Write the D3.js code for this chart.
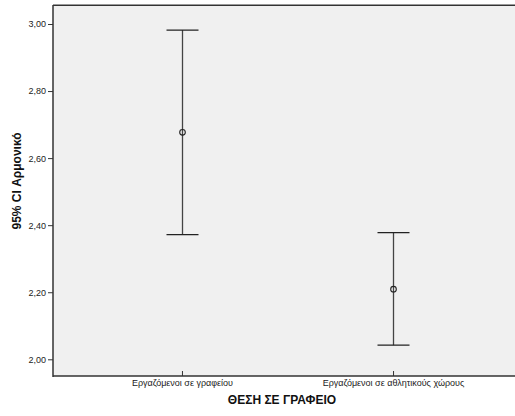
<!DOCTYPE html>
<html><head><meta charset="utf-8">
<script src="https://cdn.jsdelivr.net/npm/d3@7"></script>
<style>body{margin:0;background:#fff;}svg{display:block;font-family:"Liberation Sans",Arial,sans-serif;}</style>
</head><body>
<svg id="c" width="515" height="416"></svg>
<script>
const categories = ["Εργαζόμενοι σε γραφείου", "Εργαζόμενοι σε αθλητικούς χώρους"];
const means = [2.677, 2.209];
const lower = [2.372, 2.042];
const upper = [2.982, 2.378];
const yTicks = [2.0, 2.2, 2.4, 2.6, 2.8, 3.0];
const xTitle = "ΘΕΣΗ ΣΕ ΓΡΑΦΕΙΟ";
const yTitle = "95% CI Αρμονικό";

const svg = d3.select("#c");
const L = 53, R = 522, T = 5, B = 376;
const y = d3.scaleLinear().domain([2.0, 3.0]).range([359.3, 24]);
const x = d3.scalePoint().domain(categories).range([L, R]).padding(0.611);

svg.append("rect").attr("x", L).attr("y", T).attr("width", R - L).attr("height", B - T).attr("fill", "#f0f0f0");
svg.append("line").attr("x1", L).attr("x2", R).attr("y1", T - 0.5).attr("y2", T - 0.5).attr("stroke", "#999");
svg.append("line").attr("x1", L).attr("x2", R).attr("y1", T + 0.5).attr("y2", T + 0.5).attr("stroke", "#333");

const yAxis = svg.append("g").attr("transform", `translate(${L},0)`)
  .call(d3.axisLeft(y).tickValues(yTicks).tickSize(5).tickPadding(2)
    .tickFormat(d => d3.format(".2f")(d).replace(".", ",")));
yAxis.select(".domain").remove();
yAxis.selectAll("line").attr("stroke", "#333");
yAxis.selectAll("text").attr("font-size", 9).attr("fill", "#222").attr("font-family", "Liberation Sans, Arial, sans-serif");

const xAxis = svg.append("g").attr("transform", `translate(0,${B})`)
  .call(d3.axisBottom(x).tickSize(-5).tickPadding(4));
xAxis.select(".domain").remove();
xAxis.selectAll("line").attr("stroke", "#333").attr("y2", -5);
xAxis.selectAll("text").attr("font-size", 9).attr("fill", "#222").attr("dy", "0.9em").attr("y", 2).attr("font-family", "Liberation Sans, Arial, sans-serif");

svg.append("line").attr("x1", L).attr("x2", L).attr("y1", T).attr("y2", B + 1).attr("stroke", "#333").attr("stroke-width", 1.5);
svg.append("line").attr("x1", L).attr("x2", R).attr("y1", B).attr("y2", B).attr("stroke", "#333").attr("stroke-width", 1.5);

const g = svg.append("g");
categories.forEach((c, i) => {
  const cx = Math.round(x(c)) + 0.5;
  g.append("line").attr("x1", cx).attr("x2", cx).attr("y1", y(upper[i])).attr("y2", y(lower[i])).attr("stroke", "#444").attr("stroke-width", 1.3);
  [upper[i], lower[i]].forEach(v => {
    g.append("line").attr("x1", cx - 16).attr("x2", cx + 16).attr("y1", y(v)).attr("y2", y(v)).attr("stroke", "#222").attr("stroke-width", 1.3);
  });
  g.append("circle").attr("cx", cx).attr("cy", y(means[i])).attr("r", 2.8).attr("fill", "none").attr("stroke", "#222").attr("stroke-width", 1.1);
});

svg.append("text").attr("x", 282).attr("y", 404).attr("text-anchor", "middle")
  .attr("font-size", 12).attr("font-weight", "bold").attr("fill", "#111").text(xTitle);
svg.append("text").attr("transform", "translate(21,181) rotate(-90)").attr("text-anchor", "middle")
  .attr("font-size", 12).attr("font-weight", "bold").attr("fill", "#111").text(yTitle);
</script>
</body></html>
